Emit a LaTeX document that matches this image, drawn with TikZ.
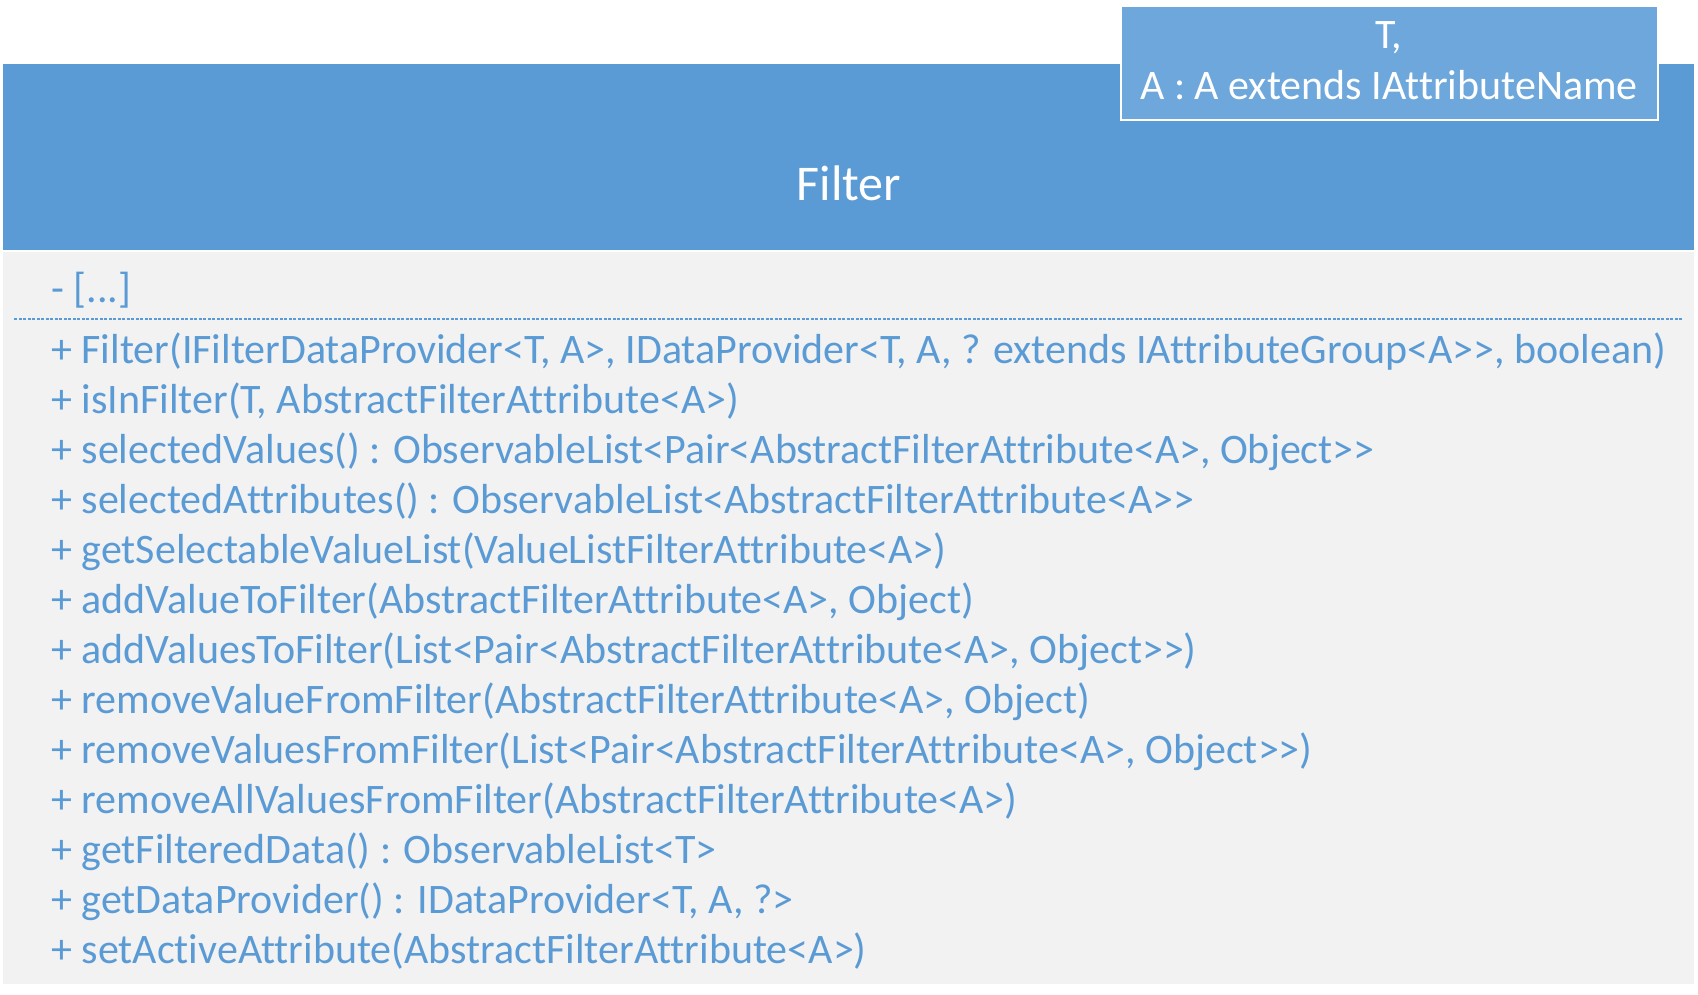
\documentclass[tikz,border=0pt]{standalone}
\usepackage{fontspec}
\setmainfont{Carlito}[Ligatures = {TeXOff, NoCommon}]
\definecolor{headblue}{HTML}{5B9BD5}
\definecolor{tmplblue}{HTML}{6DA7DB}
\definecolor{bodygray}{HTML}{F2F2F2}
\begin{document}
\begin{tikzpicture}[x=1pt, y=-1pt,
    member/.style = {anchor = base west, inner sep = 0pt, text = headblue,
        font = \fontsize{42}{50}\selectfont},
    tmpltext/.style = {anchor = base, inner sep = 0pt, text = white,
        font = \fontsize{42}{50}\selectfont}]%
    \useasboundingbox (0, 0) rectangle (1698, 995);
    % class box
    \fill[bodygray] (3, 252) rectangle (1694, 984);
    \fill[headblue] (3, 64) rectangle (1694, 250);
    \node[anchor = base, inner sep = 0pt, text = white,
        font = \fontsize{50}{60}\selectfont] (name) at (849, 201) {Filter};
    % template parameters
    \draw[white, line width = 2pt, fill = tmplblue] (1121, 6) rectangle (1658, 120);
    \node[tmpltext] (tparT) at (1389, 49) {T,};
    \node[tmpltext] (tparA) at (1389, 100) {A : A extends IAttributeName};
    % attributes
    \node[member] (attr) at (51, 302) {- [...]};
    \draw[headblue, line width = 1.5pt, dash pattern = on 3pt off 1.5pt] (14, 319) -- (1683, 319);
    % operations
    \node[member] (op1) at (51, 363.5) {+ Filter(IFilterDataProvider<T, A>, IDataProvider<T, A, ? extends IAttributeGroup<A>>, boolean)};
    \node[member] (op2) at (51, 413.5) {+ isInFilter(T, AbstractFilterAttribute<A>)};
    \node[member] (op3) at (51, 463.5) {+ selectedValues() : ObservableList<Pair<AbstractFilterAttribute<A>, Object>>};
    \node[member] (op4) at (51, 513.5) {+ selectedAttributes() : ObservableList<AbstractFilterAttribute<A>>};
    \node[member] (op5) at (51, 563.5) {+ getSelectableValueList(ValueListFilterAttribute<A>)};
    \node[member] (op6) at (51, 613.5) {+ addValueToFilter(AbstractFilterAttribute<A>, Object)};
    \node[member] (op7) at (51, 663.5) {+ addValuesToFilter(List<Pair<AbstractFilterAttribute<A>, Object>>)};
    \node[member] (op8) at (51, 713.5) {+ removeValueFromFilter(AbstractFilterAttribute<A>, Object)};
    \node[member] (op9) at (51, 763.5) {+ removeValuesFromFilter(List<Pair<AbstractFilterAttribute<A>, Object>>)};
    \node[member] (op10) at (51, 813.5) {+ removeAllValuesFromFilter(AbstractFilterAttribute<A>)};
    \node[member] (op11) at (51, 863.5) {+ getFilteredData() : ObservableList<T>};
    \node[member] (op12) at (51, 913.5) {+ getDataProvider() : IDataProvider<T, A, ?>};
    \node[member] (op13) at (51, 963.5) {+ setActiveAttribute(AbstractFilterAttribute<A>)};
\end{tikzpicture}
\end{document}
